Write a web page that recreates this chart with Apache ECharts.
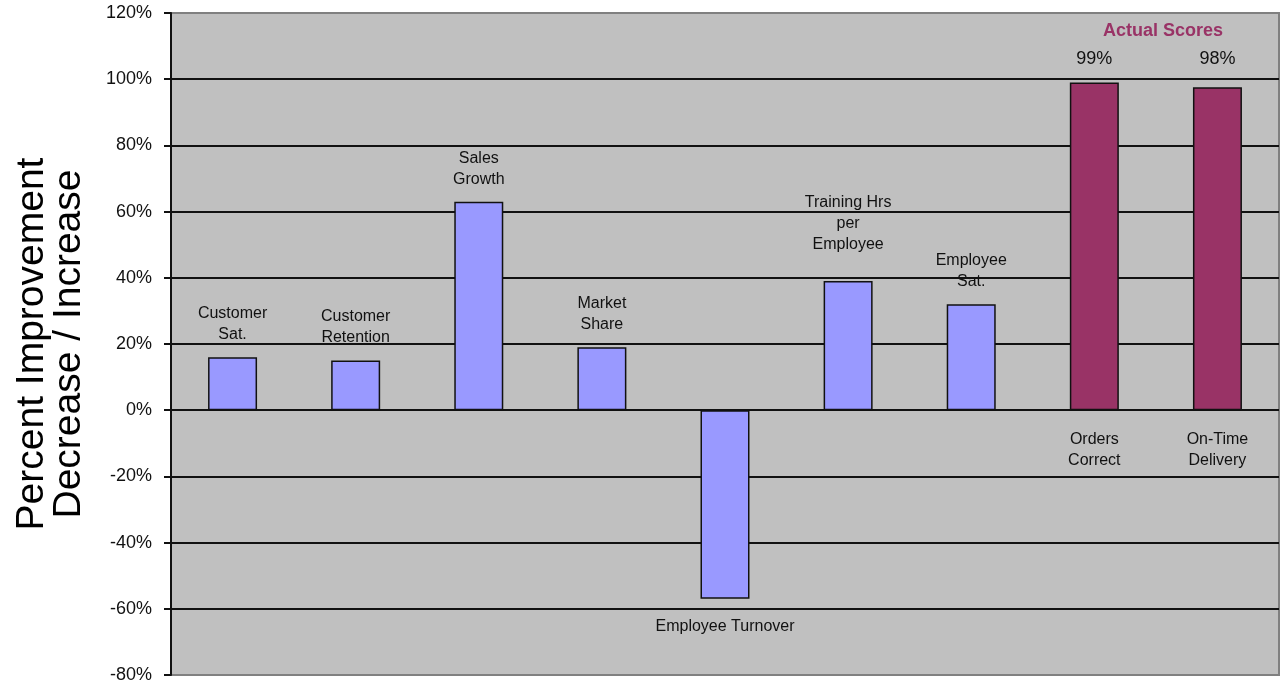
<!DOCTYPE html>
<html>
<head>
<meta charset="utf-8">
<title>Percent Improvement</title>
<script src="https://cdn.jsdelivr.net/npm/echarts@6/dist/echarts.min.js"></script>
<style>
    html, body { margin: 0; padding: 0; background: #fff; }
    #chart { width: 1287px; height: 691px; }
</style>
</head>
<body>
<div id="chart"></div>
<script>
// categories (line breaks as in the chart labels)
const categories = ['Customer\nSat.', 'Customer\nRetention', 'Sales\nGrowth', 'Market\nShare', 'Employee Turnover',
    'Training Hrs\nper\nEmployee', 'Employee\nSat.', 'Orders\nCorrect', 'On-Time\nDelivery'];
// percent improvement (decrease / increase)
const improvement = [16, 15, 63, 19, -57, 39, 32, null, null];
// actual scores
const actualScores = [null, null, null, null, null, null, null, 99, 97.6];
const scoreLabels = ['99%', '98%'];
const yTicks = { min: -80, max: 120, interval: 20 };

const myChart = echarts.init(document.getElementById('chart'));
const labelFont = {
    fontFamily: 'Liberation Sans, Arial, sans-serif',
    fontSize: 16,
    lineHeight: 21,
    color: '#111',
};

const labelDistance = (v, i, maroon) => {
    if (maroon) return 19;
    if (v < 0) return 17;
    if (i === 5) return 26; // training label sits higher
    return 12;
};

const toItems = (values, color) => values.map((v, i) => {
    if (v === null) return null;
    const maroon = color === '#993366';
    return {
        value: v,
        itemStyle: { color: color },
        label: {
            show: true,
            position: v < 0 || maroon ? 'bottom' : 'top',
            distance: labelDistance(v, i, maroon),
            formatter: categories[i],
            ...labelFont,
        },
    };
});

// score labels sit on one line above both maroon bars
const scoreItems = actualScores.map((v, i) => {
    if (v === null) return null;
    return { value: v, label: { distance: 14 + (99 - v) * 3.3 } };
});

let option = {
    backgroundColor: '#ffffff',
    animation: false,
    grid: {
        show: true,
        left: 171,
        right: 8,
        top: 13,
        bottom: 16,
        backgroundColor: '#c0c0c0',
        borderColor: '#808080',
        borderWidth: 2,
    },
    xAxis: {
        type: 'category',
        data: categories,
        axisLine: { show: false },
        axisTick: { show: false },
        axisLabel: { show: false },
    },
    yAxis: {
        type: 'value',
        min: yTicks.min,
        max: yTicks.max,
        interval: yTicks.interval,
        name: 'Percent Improvement\nDecrease / Increase',
        nameLocation: 'middle',
        nameRotate: 90,
        nameGap: 83,
        nameTextStyle: {
            fontFamily: 'Liberation Sans, Arial, sans-serif',
            fontSize: 39,
            lineHeight: 37,
            color: '#000',
        },
        axisLine: { show: true, lineStyle: { color: '#111', width: 2 } },
        axisTick: { show: true, length: 7, lineStyle: { color: '#111', width: 2 } },
        axisLabel: {
            formatter: '{value}%',
            margin: 19,
            fontFamily: 'Liberation Sans, Arial, sans-serif',
            fontSize: 18,
            color: '#111',
        },
        splitLine: {
            show: true,
            showMinLine: false,
            showMaxLine: false,
            lineStyle: { color: '#111', width: 2 },
        },
    },
    graphic: [{
        type: 'text',
        left: 1103,
        top: 22,
        style: {
            text: 'Actual Scores',
            fill: '#993366',
            font: 'bold 18px "Liberation Sans", Arial, sans-serif',
        },
    }],
    series: [
        {
            name: 'Improvement',
            type: 'bar',
            stack: 'all',
            barWidth: 49,
            itemStyle: { borderColor: '#111', borderWidth: 1.5 },
            data: toItems(improvement, '#9999ff'),
        },
        {
            name: 'Actual Scores',
            type: 'bar',
            stack: 'all',
            barWidth: 49,
            itemStyle: { borderColor: '#111', borderWidth: 1.5 },
            data: toItems(actualScores, '#993366'),
        },
        {
            // value labels above the actual score bars
            name: 'Score Labels',
            type: 'bar',
            barWidth: 49,
            barGap: '-100%',
            silent: true,
            itemStyle: { color: 'transparent', borderWidth: 0 },
            label: {
                show: true,
                position: 'top',
                formatter: (p) => scoreLabels[p.dataIndex - 7],
                fontFamily: 'Liberation Sans, Arial, sans-serif',
                fontSize: 18,
                color: '#111',
            },
            data: scoreItems,
        },
    ],
};

myChart.setOption(option);
window.addEventListener('resize', () => {
    myChart.resize();
});
</script>
</body>
</html>
